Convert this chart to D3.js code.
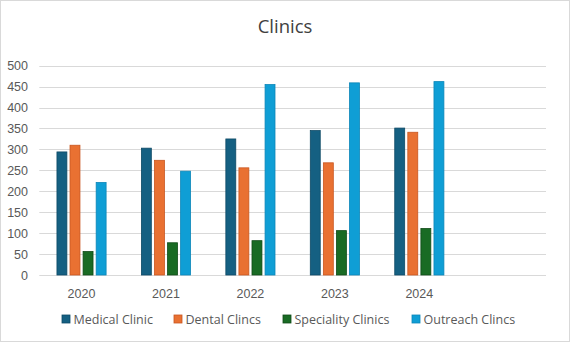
<!DOCTYPE html>
<html>
<head>
<meta charset="utf-8">
<script src="https://cdn.jsdelivr.net/npm/d3@7"></script>
<style>
  body { margin: 0; background: #fff; }
  svg { display: block; font-family: "Open Sans", "Noto Sans", sans-serif; }
</style>
</head>
<body>
<div id="chart"></div>
<script>
// data
var years = ["2020", "2021", "2022", "2023", "2024", ""];   // last slot is empty in the source
var seriesNames = ["Medical Clinic", "Dental Clincs", "Speciality Clinics", "Outreach Clincs"];
var medical = [294, 303, 325, 345, 351];
var dental = [310, 274, 256, 268, 341];
var speciality = [56, 77, 82, 106, 111];
var outreach = [221, 248, 455, 459, 462];
var yTicks = [0, 50, 100, 150, 200, 250, 300, 350, 400, 450, 500];
var colors = ["#156082", "#E97132", "#196B24", "#0F9ED5"];
var strokes = ["#0e4a66", "#c9561f", "#0f4a17", "#0b86b8"];

var width = 570, height = 342;
var allSeries = [medical, dental, speciality, outreach];

var svg = d3.select("#chart").append("svg")
    .attr("width", width)
    .attr("height", height);

// chart frame
svg.append("rect")
    .attr("x", 0.5).attr("y", 0.5)
    .attr("width", width - 1).attr("height", height - 1)
    .attr("fill", "#fff")
    .attr("stroke", "#d9d9d9");

var x = d3.scaleBand()
    .domain(years)
    .range([39.3, 546]);

var y = d3.scaleLinear()
    .domain([0, 500])
    .range([275, 65.7]);

var inner = d3.scaleBand()
    .domain(d3.range(seriesNames.length))
    .range([0, x.bandwidth()])
    .paddingInner(0.24)
    .paddingOuter(1.35);

// gridlines
svg.append("g")
    .selectAll("line")
    .data(yTicks)
    .enter().append("line")
    .attr("x1", x.range()[0])
    .attr("x2", x.range()[1])
    .attr("y1", function(d) { return Math.round(y(d)) + 0.5; })
    .attr("y2", function(d) { return Math.round(y(d)) + 0.5; })
    .attr("stroke", "#d9d9d9")
    .attr("stroke-width", 1);

// y axis labels
var yAxis = d3.axisLeft(y).tickValues(yTicks).tickSize(0).tickPadding(0);
var gy = svg.append("g")
    .attr("transform", "translate(28,0)")
    .call(yAxis);
gy.select(".domain").remove();
gy.selectAll("text")
    .attr("fill", "#595959")
    .style("font-size", "12.5px");

// x axis labels
var xAxis = d3.axisBottom(x).tickSize(0).tickPadding(0);
var gx = svg.append("g")
    .attr("transform", "translate(0,289)")
    .call(xAxis);
gx.select(".domain").remove();
gx.selectAll("text")
    .attr("fill", "#595959")
    .style("font-size", "12.5px");

// bars
allSeries.forEach(function(values, si) {
  svg.append("g")
      .selectAll("rect")
      .data(values)
      .enter().append("rect")
      .attr("x", function(d, i) { return x(years[i]) + inner(si); })
      .attr("y", function(d) { return y(d); })
      .attr("width", inner.bandwidth())
      .attr("height", function(d) { return y(0) - y(d); })
      .attr("fill", colors[si])
      .attr("stroke", strokes[si])
      .attr("stroke-width", 0.8);
});

// title
svg.append("text")
    .attr("x", width / 2)
    .attr("y", 33)
    .attr("text-anchor", "middle")
    .attr("fill", "#404040")
    .style("font-size", "18.5px")
    .text("Clinics");

// legend
var legendX = [62, 174, 283, 412];
var legend = svg.append("g")
    .selectAll("g")
    .data(seriesNames)
    .enter().append("g")
    .attr("transform", function(d, i) { return "translate(" + legendX[i] + ",315)"; });
legend.append("rect")
    .attr("width", 8).attr("height", 8)
    .attr("fill", function(d, i) { return colors[i]; })
    .attr("stroke", function(d, i) { return strokes[i]; })
    .attr("stroke-width", 0.8);
legend.append("text")
    .attr("x", 11.5)
    .attr("y", 4.5)
    .attr("dy", "0.35em")
    .attr("fill", "#595959")
    .style("font-size", "12.5px")
    .text(function(d) { return d; });
</script>
</body>
</html>
